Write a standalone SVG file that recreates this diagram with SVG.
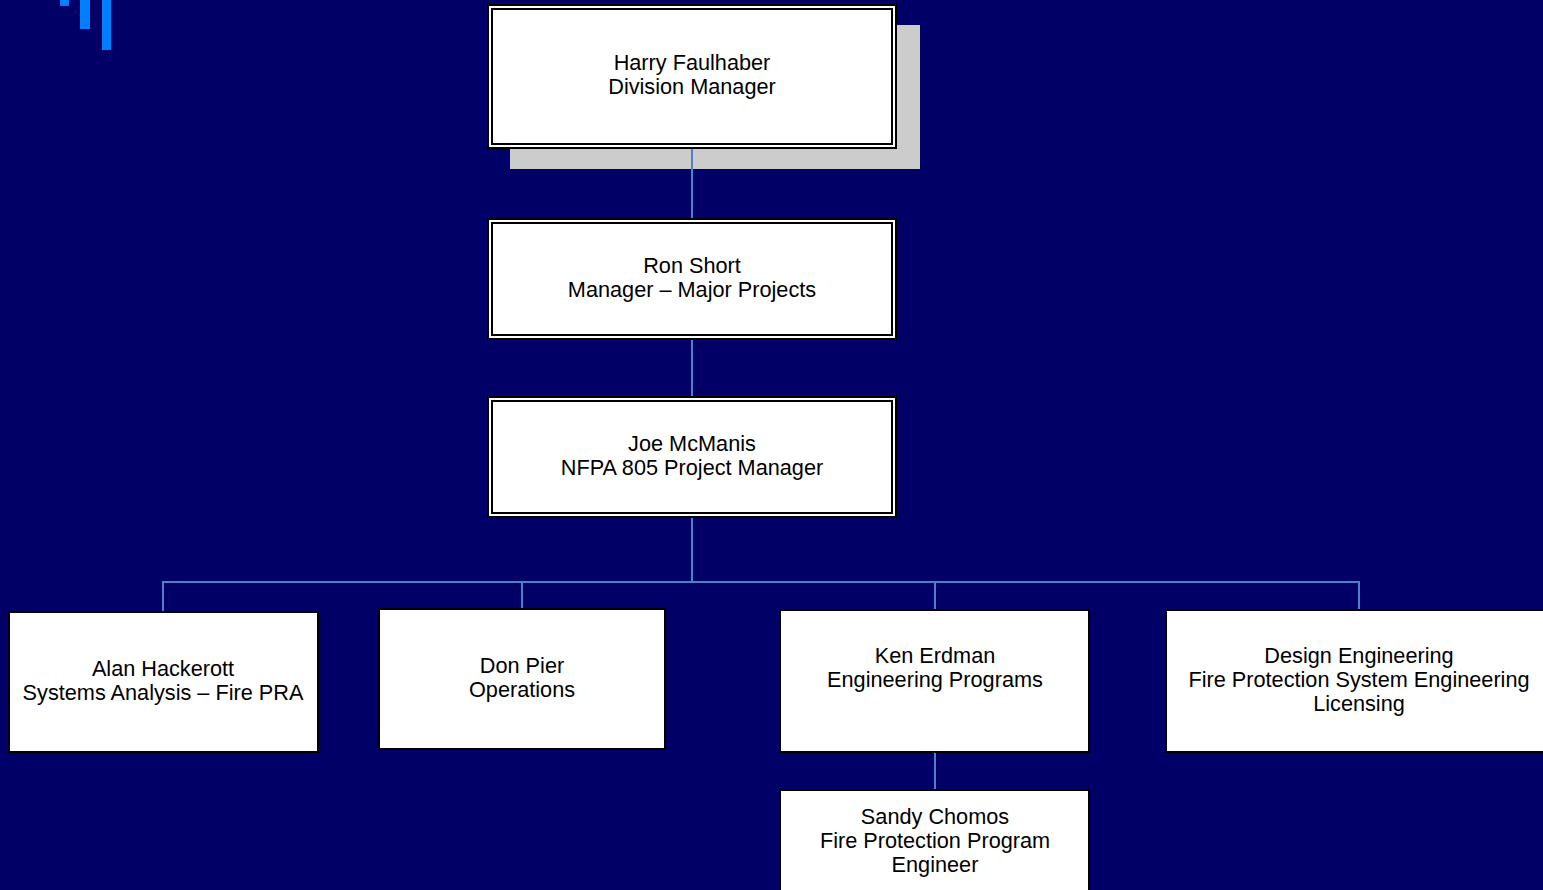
<svg xmlns="http://www.w3.org/2000/svg" width="1543" height="890" viewBox="0 0 1543 890">
<style>
.bg{fill:#000066}
.bar{fill:#0080FF}
.box{fill:#ffffff;stroke:#000000;stroke-width:2}
.inner{fill:none;stroke:#000000;stroke-width:2}
.shadow{fill:#CCCCCC}
.conn{stroke:#4F81C8;stroke-width:2;fill:none}
text{font-family:"Liberation Sans",Arial,sans-serif;font-size:21.7px;fill:#000000;text-anchor:middle}
</style>
<rect class="bg" x="0" y="0" width="1543" height="890"/>
<g id="bars">
<rect class="bar" x="60" y="0" width="9" height="6"/>
<rect class="bar" x="80" y="0" width="10" height="29"/>
<rect class="bar" x="102" y="0" width="9" height="50"/>
</g>
<g id="harry">
<rect class="shadow" x="510" y="25" width="410" height="144"/>
<rect class="box" x="488" y="5" width="408" height="143"/>
<rect class="inner" x="492" y="9" width="400" height="135"/>
<text x="692" y="70">Harry Faulhaber</text>
<text x="692" y="94">Division Manager</text>
</g>
<g id="ron">
<rect class="box" x="488" y="219" width="408" height="120"/>
<rect class="inner" x="492" y="223" width="400" height="112"/>
<text x="692" y="273">Ron Short</text>
<text x="692" y="297">Manager – Major Projects</text>
</g>
<g id="joe">
<rect class="box" x="488" y="397" width="408" height="120"/>
<rect class="inner" x="492" y="401" width="400" height="112"/>
<text x="692" y="451">Joe McManis</text>
<text x="692" y="475">NFPA 805 Project Manager</text>
</g>
<g id="alan">
<rect class="box" x="9" y="612" width="309" height="140"/>
<text x="163" y="676">Alan Hackerott</text>
<text x="163" y="700">Systems Analysis – Fire PRA</text>
</g>
<g id="don">
<rect class="box" x="379" y="609" width="286" height="140"/>
<text x="522" y="673">Don Pier</text>
<text x="522" y="697">Operations</text>
</g>
<g id="ken">
<rect class="box" x="780" y="610" width="309" height="142"/>
<text x="935" y="663">Ken Erdman</text>
<text x="935" y="687">Engineering Programs</text>
</g>
<g id="design">
<rect class="box" x="1166" y="610" width="390" height="142"/>
<text x="1359" y="663">Design Engineering</text>
<text x="1359" y="687">Fire Protection System Engineering</text>
<text x="1359" y="711">Licensing</text>
</g>
<g id="sandy">
<rect class="box" x="780" y="790" width="309" height="110"/>
<text x="935" y="824">Sandy Chomos</text>
<text x="935" y="848">Fire Protection Program</text>
<text x="935" y="872">Engineer</text>
</g>
<g id="connectors">
<line class="conn" x1="692" y1="149" x2="692" y2="218"/>
<line class="conn" x1="692" y1="340" x2="692" y2="396"/>
<line class="conn" x1="692" y1="518" x2="692" y2="582"/>
<polyline class="conn" points="163,611 163,582 1359,582 1359,609"/>
<line class="conn" x1="522" y1="582" x2="522" y2="608"/>
<line class="conn" x1="935" y1="582" x2="935" y2="609"/>
<line class="conn" x1="935" y1="753" x2="935" y2="789"/>
</g>
</svg>
